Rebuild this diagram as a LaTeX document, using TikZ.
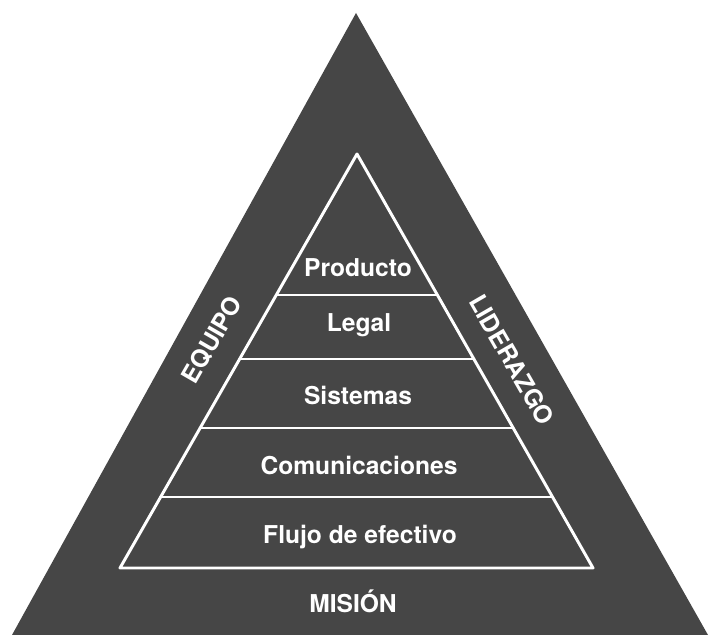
\documentclass[tikz,border=0pt]{standalone}
\usepackage{fontspec}
\usepackage{tkz-euclide}
\setmainfont{TeX Gyre Heros}
\definecolor{piedra}{RGB}{70,70,70}
\tikzset{nivel/.style={text=white,inner sep=0pt,font=\bfseries\fontsize{17.5}{20}\selectfont},
         borde/.style={white,line width=2.1pt}}

\begin{document}
\begin{tikzpicture}
                \useasboundingbox (0,0) rectangle (17.725,15.975);
                \tkzDefPoints{0.3/0.1/B,17.7/0.1/C,8.9/15.65/A}
                \tkzDefPoints{3.0/1.775/b,14.825/1.775/c,8.925/12.125/a}
                \tkzFillPolygon[fill=piedra](A,B,C)
                \tkzDefPointBy[homothety = center a ratio 0.3406](b) \tkzGetPoint{p1}
                \tkzDefPointBy[homothety = center a ratio 0.3406](c) \tkzGetPoint{q1}
                \tkzDefPointBy[homothety = center a ratio 0.4952](b) \tkzGetPoint{p2}
                \tkzDefPointBy[homothety = center a ratio 0.4952](c) \tkzGetPoint{q2}
                \tkzDefPointBy[homothety = center a ratio 0.6618](b) \tkzGetPoint{p3}
                \tkzDefPointBy[homothety = center a ratio 0.6618](c) \tkzGetPoint{q3}
                \tkzDefPointBy[homothety = center a ratio 0.8285](b) \tkzGetPoint{p4}
                \tkzDefPointBy[homothety = center a ratio 0.8285](c) \tkzGetPoint{q4}
                \tkzDrawPolygon[borde](a,b,c)
                \tkzDrawSegments[borde](p1,q1 p2,q2 p3,q3 p4,q4)
                \node[nivel] (producto) at (8.95,9.275) {Producto};
                \node[nivel] (legal) at (8.975,7.85) {Legal};
                \node[nivel] (sistemas) at (8.95,6.1) {Sistemas};
                \node[nivel] (comunic) at (8.975,4.35) {Comunicaciones};
                \node[nivel] (flujo) at (9.0,2.55) {Flujo de efectivo};
                \node[nivel] (mision) at (8.825,0.95) {MISIÓN};
                \node[nivel,rotate=60] (equipo) at (5.3,7.475) {EQUIPO};
                \node[nivel,rotate=-60] (liderazgo) at (12.8,6.975) {LIDERAZGO};
            \end{tikzpicture}
\end{document}
